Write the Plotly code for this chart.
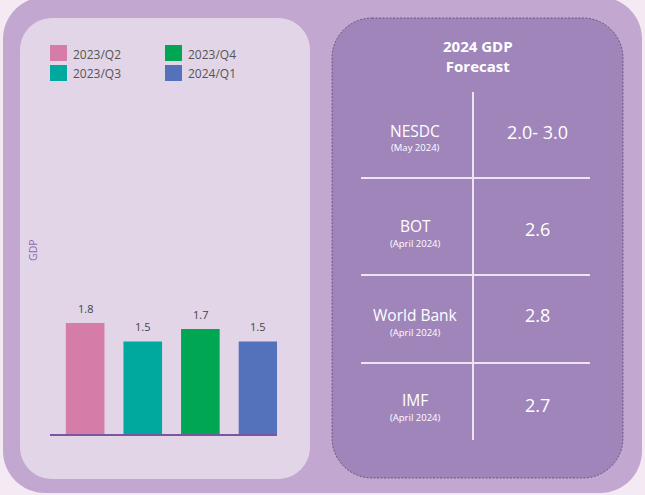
import plotly.graph_objects as go

# ---- data ----
quarters = ["2023/Q2", "2023/Q3", "2023/Q4", "2024/Q1"]
gdp_values = [1.8, 1.5, 1.7, 1.5]
bar_colors = ["#D57DA8", "#00A99D", "#00A651", "#5472BB"]

sources = ["NESDC", "BOT", "World Bank", "IMF"]
source_dates = ["(May 2024)", "(April 2024)", "(April 2024)", "(April 2024)"]
forecasts = ["2.0- 3.0", "2.6", "2.8", "2.7"]

W, H = 645, 495
FONT = "Open Sans"


def px(x):
    return x / W


def py(y):
    return 1 - y / H


def rrect(x0, y0, x1, y1, r):
    k = 0.5523 * r
    pts = [
        ("M", [(x0 + r, y0)]),
        ("L", [(x1 - r, y0)]),
        ("C", [(x1 - r + k, y0), (x1, y0 + r - k), (x1, y0 + r)]),
        ("L", [(x1, y1 - r)]),
        ("C", [(x1, y1 - r + k), (x1 - r + k, y1), (x1 - r, y1)]),
        ("L", [(x0 + r, y1)]),
        ("C", [(x0 + r - k, y1), (x0, y1 - r + k), (x0, y1 - r)]),
        ("L", [(x0, y0 + r)]),
        ("C", [(x0, y0 + r - k), (x0 + r - k, y0), (x0 + r, y0)]),
    ]
    s = ""
    for cmd, ps in pts:
        s += cmd + " " + " ".join(f"{px(a):.5f},{py(b):.5f}" for a, b in ps) + " "
    return s + "Z"


def txt(x, y, text, size, color, **kw):
    d = dict(xref="paper", yref="paper", x=px(x), y=py(y), text=text, showarrow=False,
             xanchor="center", yanchor="middle",
             font=dict(family=FONT, size=size, color=color))
    d.update(kw)
    return d


fig = go.Figure()
fig.add_trace(go.Bar(
    x=quarters, y=gdp_values, marker=dict(color=bar_colors, line=dict(width=0)),
    width=0.67, showlegend=False, cliponaxis=False, hoverinfo="x+y",
))

shapes = []
# outer frame
shapes.append(dict(type="path", xref="paper", yref="paper", layer="below",
                   path=rrect(3, -3, 642, 493, 42), fillcolor="#C2A8D0", line=dict(width=0)))
# left panel
shapes.append(dict(type="path", xref="paper", yref="paper", layer="below",
                   path=rrect(20, 18, 310, 479, 32), fillcolor="#E2D5E8", line=dict(width=0)))
# right panel
shapes.append(dict(type="path", xref="paper", yref="paper", layer="below",
                   path=rrect(332, 18, 623, 478, 40), fillcolor="#A085BB",
                   line=dict(width=0.7, color="#4E3E60", dash="2px,1.5px")))

# table lines
line_col = "#EDE3F3"
shapes.append(dict(type="line", xref="paper", yref="paper", x0=px(473), x1=px(473),
                   y0=py(92), y1=py(440), line=dict(color=line_col, width=2)))
for yy in [178, 275, 363]:
    shapes.append(dict(type="line", xref="paper", yref="paper", x0=px(361), x1=px(590),
                       y0=py(yy), y1=py(yy), line=dict(color=line_col, width=2)))

annotations = []
# custom legend
legend_pos = [(50, 45), (50, 65), (165, 45), (165, 65)]
for (lx, ly), name, col in zip(legend_pos, quarters, bar_colors):
    shapes.append(dict(type="rect", xref="paper", yref="paper", x0=px(lx), x1=px(lx + 17),
                       y0=py(ly), y1=py(ly + 16), fillcolor=col, line=dict(width=0)))
    annotations.append(txt(lx + 21, ly + 9, name, 12, "#555555", xanchor="left"))

# bar value labels
for q, v in zip(quarters, gdp_values):
    annotations.append(dict(x=q, y=v, xref="x", yref="y", text=f"{v}", showarrow=False,
                            xanchor="center", yanchor="bottom", yshift=5,
                            font=dict(family=FONT, size=11, color="#444444")))

# GDP axis title
annotations.append(txt(33, 250, "GDP", 10.5, "#8A6BB0", textangle=-90))

# right panel title
annotations.append(txt(478, 56, "<b>2024 GDP</b><br><b>Forecast</b>", 15, "#FFFFFF",
                       align="center"))

row_y = [131, 226, 315, 400]
val_y = [132, 229, 315, 405]
for s, d, f, ry, vy in zip(sources, source_dates, forecasts, row_y, val_y):
    annotations.append(txt(415, ry, s, 15.5, "#FFFFFF"))
    annotations.append(txt(415, ry + 17, d, 9.5, "#FFFFFF"))
    annotations.append(txt(537, vy, f, 18, "#FFFFFF"))

fig.update_layout(
    width=W, height=H, margin=dict(l=0, r=0, t=0, b=0, pad=0),
    paper_bgcolor="#F4EAF4", plot_bgcolor="rgba(0,0,0,0)",
    shapes=shapes, annotations=annotations, bargap=0.33,
    xaxis=dict(domain=[px(50), px(277)], range=[-0.61, 3.33], showline=True,
               linecolor="#7A55A0", linewidth=2, showticklabels=False, ticks="",
               showgrid=False, zeroline=False, fixedrange=True,
               categoryorder="array", categoryarray=quarters),
    yaxis=dict(domain=[py(434), py(290)], range=[0, 2.334], showticklabels=False,
               showgrid=False, zeroline=False, showline=False, fixedrange=True),
    font=dict(family=FONT),
)

fig.write_html("out.html", config={"displayModeBar": False},
               post_script="document.body.style.margin='0';")
